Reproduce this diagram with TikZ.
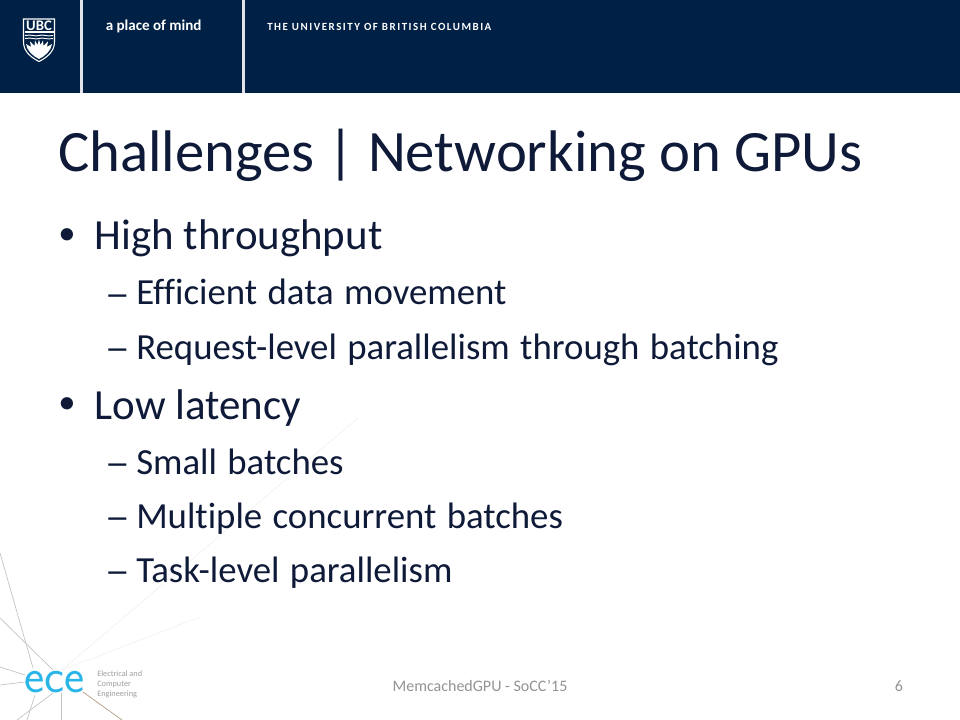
\documentclass[tikz,border=0pt]{standalone}
\usepackage{fontspec}
\setmainfont{Carlito}[Ligatures=CommonOff]
\newfontfamily\widespaced{Carlito}[Ligatures=CommonOff,WordSpace=1.25]
\definecolor{navy}{HTML}{002145}
\definecolor{ink}{HTML}{0E1A38}
\definecolor{eceblue}{HTML}{29B5E8}
\newcommand{\longdash}{\scalebox{1.35}[1]{–}}
\tikzset{
  x=0.75pt,y=-0.75pt,
  txt/.style={anchor=base west,inner sep=0pt,text=ink},
  lvlone/.style={txt,font=\fontsize{32.2}{38}\selectfont},
  lvltwo/.style={txt,font=\fontsize{27.6}{33}\widespaced},
  dashmark/.style={txt,font=\fontsize{28}{33}\selectfont},
  bulletmark/.style={txt,font=\fontsize{26}{30}\selectfont},
  foot/.style={inner sep=0pt,anchor=base,text=gray!85,font=\fontsize{12}{14}\selectfont},
  web/.style={draw=black!24,line width=0.5pt},
  webfaint/.style={draw=black!5,line width=0.5pt}
}
\begin{document}
\begin{tikzpicture}
\useasboundingbox (0,0) rectangle (960,720);
\fill[white] (0,0) rectangle (960,720);
% header band
\fill[navy] (0,0) rectangle (960,93);
\fill[white] (0,93) rectangle (960,94.5);
\fill[white!88!navy] (79.5,0) rectangle (82.5,93);
\fill[white!88!navy] (241.5,0) rectangle (244.5,93);
% shield
\draw[white,line width=0.8pt,fill=navy] (23.5,19) -- (54.5,19) -- (54.5,42) .. controls (54.5,52) and (46,58) .. (39,61.5) .. controls (32,58) and (23.5,52) .. (23.5,42) -- cycle;
\node[inner sep=0pt,anchor=base,text=white,font=\bfseries\fontsize{11}{12}\selectfont] (ubc) at (39,30.5) {UBC};
\fill[white] (24.5,31.5) rectangle (53.5,32.8);
\draw[white,line width=0.7pt] (25,35.5) .. controls (32,34) and (35,37) .. (39,35.5) .. controls (43,34) and (47,37) .. (53,35.5);
\draw[white,line width=0.7pt] (25,38.5) .. controls (32,37) and (35,40) .. (39,38.5) .. controls (43,37) and (47,40) .. (53,38.5);
\fill[white] (26,44) -- (31,47) -- (30,41.5) -- (34.5,46) -- (35,40.5) -- (37.5,45) -- (39,39.5) -- (40.5,45) -- (43,40.5) -- (43.5,46) -- (48,41.5) -- (47,47) -- (52,44)
  .. controls (51,51) and (45,56) .. (39,59) .. controls (33,56) and (27,51) .. (26,44) -- cycle;
\node[inner sep=0pt,anchor=base west,text=white,font=\bfseries\fontsize{11.3}{13}\selectfont] (mind) at (105.5,31) {a place of mind};
\node[inner sep=0pt,anchor=base west,text=white,font=\bfseries\fontsize{8.2}{10}\selectfont] (univ) at (267,31) {\addfontfeatures{LetterSpace=14}THE UNIVERSITY OF BRITISH COLUMBIA};
% background web
\draw[web] (0,553) -- (33,668);
\draw[web] (0,618) -- (53,670);
\draw[web] (0,667) -- (25,675);
\draw[web] (0,685) -- (25,682);
\draw[web] (35,695) -- (27,720);
\draw[web] (53,693) -- (17,720);
\draw[web] (61,693) -- (61,720);
\draw[web,draw=black!35!brown!60] (83,692) -- (122,720);
\draw[webfaint] (62,670) -- (358,418);
\draw[webfaint] (62,670) -- (200,617);
% title and bullets
\node[txt,font=\fontsize{44}{52}\selectfont] (title) at (58,171.5) {Challenges | Networking on GPUs};
\node[bulletmark] (b1) at (58,244.5) {•};
\node[lvlone] (t1) at (94.5,250) {High throughput};
\node[dashmark] (d1) at (104.5,306) {\longdash};
\node[lvltwo] (t2) at (136,305) {Efficient data movement};
\node[dashmark] (d2) at (104.5,360) {\longdash};
\node[lvltwo] (t3) at (136,359) {Request-level parallelism through batching};
\node[bulletmark] (b2) at (58,413.5) {•};
\node[lvlone] (t4) at (94.5,419) {Low latency};
\node[dashmark] (d3) at (104.5,475) {\longdash};
\node[lvltwo] (t5) at (136,474) {Small batches};
\node[dashmark] (d4) at (104.5,529) {\longdash};
\node[lvltwo] (t6) at (136,528) {Multiple concurrent batches};
\node[dashmark] (d5) at (104.5,583) {\longdash};
\node[lvltwo] (t7) at (136,582) {Task-level parallelism};
% footer
\node[foot] (fc) at (480,691) {MemcachedGPU - SoCC'15};
\node[foot] (pg) at (899,691) {6};
% ece logo
\node[inner sep=0pt,anchor=base west,text=eceblue,font=\sffamily\fontsize{36}{38}\selectfont] (ece) at (24.5,692.5) {ece};
\node[inner sep=0pt,anchor=north west,align=left,text=gray!75,font=\fontsize{6.2}{7.6}\selectfont] (dept) at (97,670.5) {Electrical and\\Computer\\Engineering};
\end{tikzpicture}
\end{document}
